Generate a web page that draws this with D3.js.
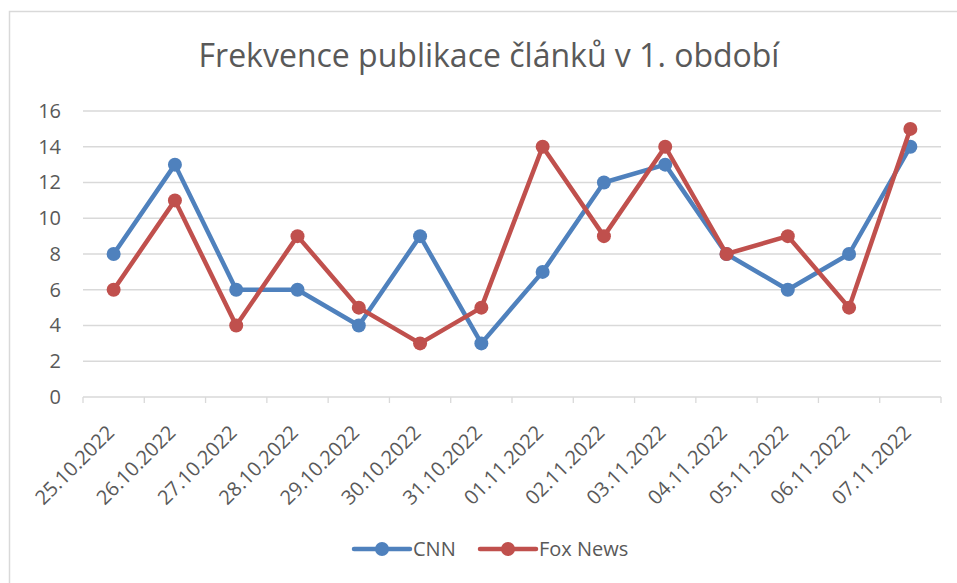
<!DOCTYPE html>
<html>
<head>
<meta charset="utf-8">
<script src="https://cdn.jsdelivr.net/npm/d3@7"></script>
<style>
  body { margin: 0; background: #fff; }
  text { font-family: "Open Sans", "Noto Sans", sans-serif; fill: #595959; }
</style>
</head>
<body>
<div id="chart"></div>
<script>
// Données du graphique
const dates = ["25.10.2022", "26.10.2022", "27.10.2022", "28.10.2022", "29.10.2022", "30.10.2022", "31.10.2022",
    "01.11.2022", "02.11.2022", "03.11.2022", "04.11.2022", "05.11.2022", "06.11.2022", "07.11.2022"];
const cnn = [8, 13, 6, 6, 4, 9, 3, 7, 12, 13, 8, 6, 8, 14];
const fox = [6, 11, 4, 9, 5, 3, 5, 14, 9, 14, 8, 9, 5, 15];
const seriesNames = ["CNN", "Fox News"];
const yTicks = [0, 2, 4, 6, 8, 10, 12, 14, 16];

const W = 957, H = 583,
    margin = {top: 111, left: 83},
    width = 941 - margin.left,
    height = 397 - margin.top,
    colors = ["#4f81bd", "#c0504d"],
    gridColor = "#d9d9d9",
    labelSize = "20px";

const svg = d3.select("#chart").append("svg")
    .attr("width", W)
    .attr("height", H);

// cadre du graphique (coupé à droite et en bas)
svg.append("rect")
    .attr("x", 9.5).attr("y", 11.5)
    .attr("width", W).attr("height", H)
    .style("fill", "none")
    .style("stroke", gridColor)
    .style("stroke-width", 1.5);

svg.append("text")
    .attr("x", 489)
    .attr("y", 67)
    .attr("text-anchor", "middle")
    .style("font-size", "32px")
    .text("Frekvence publikace článků v 1. období");

const g = svg.append("g")
    .attr("transform", "translate(" + margin.left + "," + margin.top + ")");

const x = d3.scaleBand()
    .domain(dates)
    .range([0, width]);

const y = d3.scaleLinear()
    .domain([0, 16])
    .range([height, 0]);

// grille horizontale
g.selectAll("line.grid")
    .data(yTicks.filter(d => d > 0))
    .enter().append("line")
    .attr("x1", 0)
    .attr("x2", width)
    .attr("y1", d => y(d))
    .attr("y2", d => y(d))
    .style("stroke", gridColor)
    .style("stroke-width", 1.3);

// axe Y sans ligne
const yAxis = g.append("g")
    .call(d3.axisLeft(y).tickValues(yTicks).tickSize(0).tickPadding(22));
yAxis.select(".domain").remove();
yAxis.selectAll("text")
    .style("font-size", labelSize)
    .style("fill", "#595959")
    .style("font-family", "'Open Sans', sans-serif");

// axe X : ticks aux limites des catégories
const xAxisG = g.append("g")
    .attr("transform", "translate(0," + height + ")");

xAxisG.append("line")
    .attr("x1", 0).attr("x2", width)
    .style("stroke", gridColor)
    .style("stroke-width", 1.3);

xAxisG.selectAll("line.tick")
    .data(d3.range(dates.length + 1))
    .enter().append("line")
    .attr("x1", i => i * x.step())
    .attr("x2", i => i * x.step())
    .attr("y1", 0)
    .attr("y2", 6)
    .style("stroke", gridColor)
    .style("stroke-width", 1.3);

xAxisG.selectAll("text.label")
    .data(dates)
    .enter().append("text")
    .attr("text-anchor", "end")
    .attr("transform", d => "translate(" + (x(d) + x.bandwidth() / 2 - 8) + ",27) rotate(-45)")
    .attr("dy", "0.7em")
    .style("font-size", labelSize)
    .text(d => d);

const line = d3.line()
    .x((d, i) => x(dates[i]) + x.bandwidth() / 2)
    .y(d => y(d));

[cnn, fox].forEach((values, k) => {
    g.append("path")
        .datum(values)
        .attr("d", line)
        .style("fill", "none")
        .style("stroke", colors[k])
        .style("stroke-width", 4.5)
        .style("stroke-linejoin", "round");

    g.selectAll("circle.s" + k)
        .data(values)
        .enter().append("circle")
        .attr("cx", (d, i) => x(dates[i]) + x.bandwidth() / 2)
        .attr("cy", d => y(d))
        .attr("r", 7)
        .style("fill", colors[k]);
});

// légende
const legendX = [354, 480];
const legend = svg.append("g")
    .attr("transform", "translate(0, 549)");

seriesNames.forEach((name, k) => {
    legend.append("line")
        .attr("x1", legendX[k])
        .attr("x2", legendX[k] + 56)
        .style("stroke", colors[k])
        .style("stroke-width", 4.5)
        .style("stroke-linecap", "round");
    legend.append("circle")
        .attr("cx", legendX[k] + 28)
        .attr("r", 7)
        .style("fill", colors[k]);
    legend.append("text")
        .attr("x", legendX[k] + 59)
        .attr("dy", "0.35em")
        .style("font-size", labelSize)
        .text(name);
});
</script>
</body>
</html>
